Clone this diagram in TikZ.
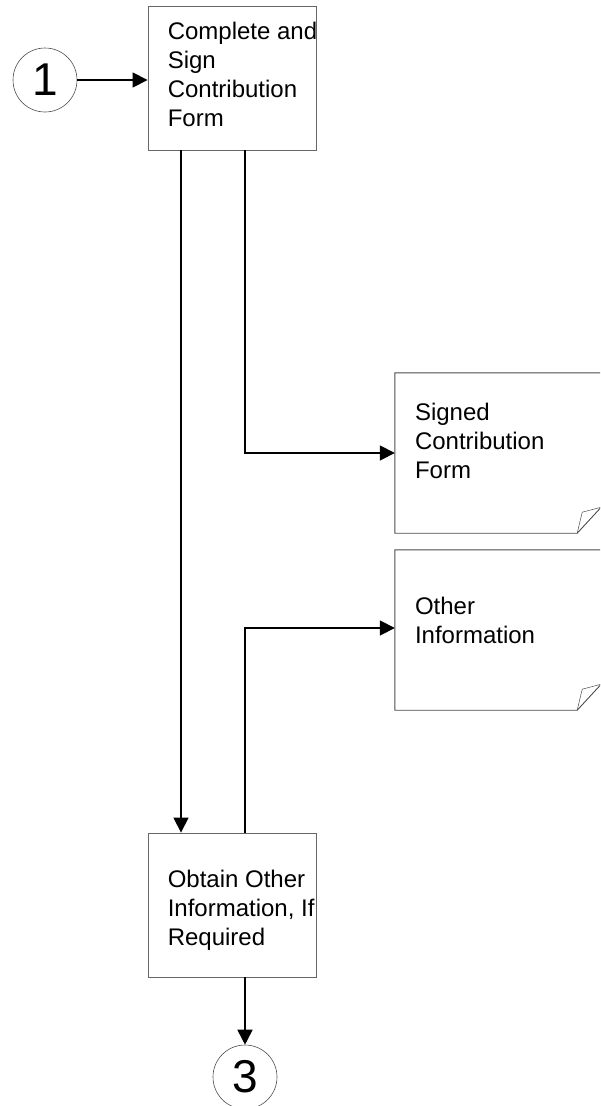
\documentclass[tikz,border=0pt]{standalone}
\usepackage{fontspec}
\setmainfont{Liberation Sans}
\usetikzlibrary{positioning,arrows.meta,calc}

\begin{document}
\begin{tikzpicture}[
    x=1pt, y=-1pt,
    stepbox/.style={
        draw=black!60,
        line width=0.9pt,
        minimum width=168pt,
        minimum height=144pt
    },
    docbox/.style={
        minimum width=206pt,
        minimum height=160pt
    },
    docline/.style={draw=black!70, line width=0.9pt},
    boxtext/.style={
        anchor=north west,
        inner sep=0pt,
        align=left,
        font=\fontsize{24}{29}\selectfont
    },
    connector/.style={
        draw,
        line width=1.7pt,
        -{Triangle[length=15pt,width=15pt]}
    },
    offpage/.style={
        circle,
        draw=black!70,
        line width=0.6pt,
        minimum size=64pt,
        inner sep=0pt,
        font=\fontsize{46}{46}\selectfont
    }
]
\useasboundingbox (0,0) rectangle (600,1106);
\clip (0,0) rectangle (600,1106);

% steps
\node[stepbox] (sign) at (232,78) {};
\node[boxtext] (signtxt) at ([shift={(20,16)}]sign.north west) {Complete and\\Sign\\Contribution\\Form};
\node[stepbox] (obtain) at (232,905) {};
\node[boxtext] (obtaintxt) at ([shift={(20,37)}]obtain.north west) {Obtain Other\\Information, If\\Required};

% off page connectors
\node[offpage] (c1) at (45,80) {1};
\node[offpage] (c3) at (245,1077) {3};

% documents
\node[docbox] (signed) at (498,453) {};
\node[boxtext] (signedtxt) at ([shift={(20,30)}]signed.north west) {Signed\\Contribution\\Form};
\node[docbox] (other) at (498,630) {};
\node[boxtext] (othertxt) at ([shift={(20,47)}]other.north west) {Other\\Information};

\foreach \d in {signed,other} {
    \coordinate (\d-a) at ([xshift=-24pt]\d.south east);
    \coordinate (\d-b) at ([yshift=26pt]\d.south east);
    \draw[docline] (\d-b) -- (\d.north east) -- (\d.north west)
        -- (\d.south west) -- (\d-a) -- (\d-b);
    \draw[docline, line width=0.5pt] (\d-a) -- ([xshift=-19pt,yshift=21pt]\d.south east) -- (\d-b);
}

% flow
\draw[connector] (c1) -- (c1 -| sign.west);
\draw[connector] ([xshift=-51pt]sign.south) -- ([xshift=-51pt]obtain.north);
\draw[connector] (sign.south -| c3) |- (signed.west);
\draw[connector] (obtain.north -| c3) |- ([yshift=2pt]other.west);
\draw[connector] (obtain.south -| c3) -- (c3);
\end{tikzpicture}
\end{document}
